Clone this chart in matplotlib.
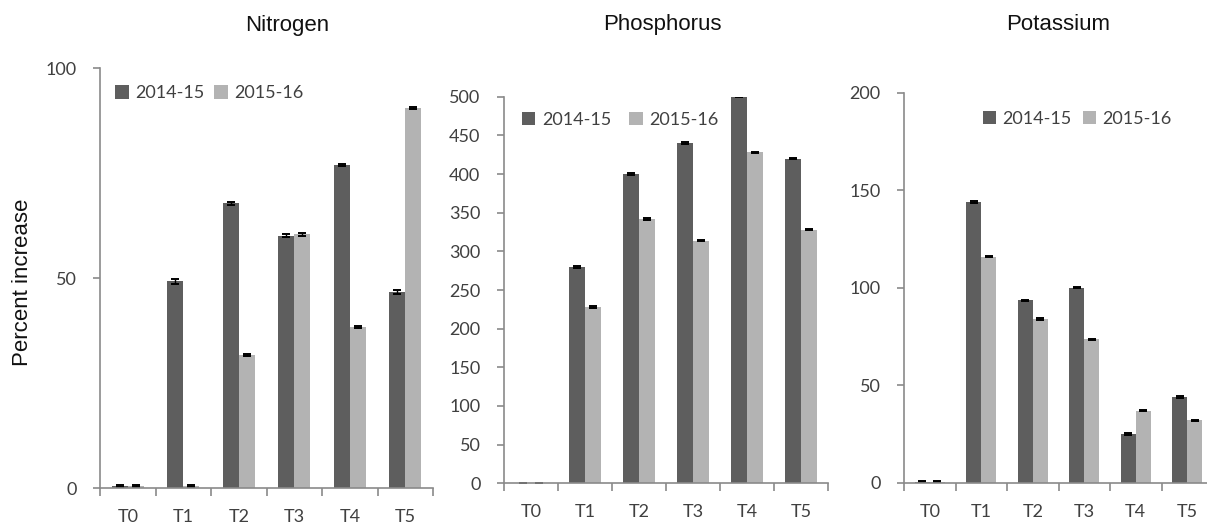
import matplotlib.pyplot as plt
import numpy as np

treatments = ["T0", "T1", "T2", "T3", "T4", "T5"]
seasons = ["2014-15", "2015-16"]

# percent increase per nutrient, one list per season
nitrogen_1415 = [0.5, 49.2, 67.8, 60.1, 76.9, 46.6]
nitrogen_1516 = [0.5, 0.5, 31.6, 60.4, 38.3, 90.5]
nitrogen_err_1415 = [0.3, 0.6, 0.3, 0.3, 0.2, 0.5]
nitrogen_err_1516 = [0.3, 0.3, 0.2, 0.3, 0.2, 0.3]

phosphorus_1415 = [0, 280, 400, 440, 500, 420]
phosphorus_1516 = [0, 228, 342, 314, 428, 328]
phosphorus_err_1415 = [0, 1, 1, 1, 0, 1]
phosphorus_err_1516 = [0, 1, 1, 1, 1, 1]

potassium_1415 = [0.5, 144, 93.5, 100, 25, 44]
potassium_1516 = [0.5, 116, 84, 73.5, 37, 32]
potassium_err_1415 = [0.3, 0.4, 0.4, 0.3, 0.3, 0.5]
potassium_err_1516 = [0.3, 0.4, 0.4, 0.4, 0.4, 0.4]

dark = "#5e5e5e"
light = "#b3b3b3"
spine = "#8a8a8a"
text_col = "#404040"
tick_font = "Lato"
title_font = "Liberation Sans"

fig = plt.figure(figsize=(12.07, 5.23), dpi=100)

panels = [
    dict(title="Nitrogen", rect=[0.0829, 0.0669, 0.2759, 0.803],
         a=nitrogen_1415, b=nitrogen_1516, ea=nitrogen_err_1415, eb=nitrogen_err_1516,
         ylim=100, yticks=[0, 50, 100], leg=(0.045, 0.94), colsp=0.55,
         title_xy=(0.238, 0.952)),
    dict(title="Phosphorus", rect=[0.4176, 0.0759, 0.2685, 0.7392],
         a=phosphorus_1415, b=phosphorus_1516, ea=phosphorus_err_1415, eb=phosphorus_err_1516,
         ylim=500, yticks=list(range(0, 501, 50)), leg=(0.055, 0.94), colsp=1.0,
         title_xy=(0.549, 0.954)),
    dict(title="Potassium", rect=[0.749, 0.077, 0.256, 0.7457],
         a=potassium_1415, b=potassium_1516, ea=potassium_err_1415, eb=potassium_err_1516,
         ylim=200, yticks=[0, 50, 100, 150, 200], leg=(0.255, 0.933), colsp=0.6,
         title_xy=(0.877, 0.954)),
]

x = np.arange(len(treatments))
w = 0.29

for p in panels:
    ax = fig.add_axes(p["rect"])
    ax.bar(x - w / 2, p["a"], w, color=dark, label=seasons[0], zorder=2)
    ax.bar(x + w / 2, p["b"], w, color=light, label=seasons[1], zorder=2)
    ax.errorbar(x - w / 2, p["a"], yerr=p["ea"], fmt="none", ecolor="black",
                elinewidth=1, capsize=3.2, capthick=1.4, zorder=3)
    ax.errorbar(x + w / 2, p["b"], yerr=p["eb"], fmt="none", ecolor="black",
                elinewidth=1, capsize=3.2, capthick=1.4, zorder=3)

    ax.set_xlim(-0.5, 5.5)
    ax.set_ylim(0, p["ylim"])
    ax.set_yticks(p["yticks"])

    # separator ticks between categories, labels at centres
    ax.set_xticks(np.arange(-0.5, 6.0, 1.0))
    ax.set_xticklabels([])
    ax.set_xticks(x, minor=True)
    ax.set_xticklabels(treatments, minor=True)
    ax.tick_params(axis="x", which="major", length=6, width=1.2, color=spine)
    ax.tick_params(axis="x", which="minor", length=0, pad=15,
                   labelsize=13, labelcolor=text_col)
    ax.tick_params(axis="y", length=5, width=1.2, color=spine, pad=12,
                   labelsize=13, labelcolor=text_col)
    for lab in ax.get_xticklabels(minor=True) + ax.get_yticklabels():
        lab.set_fontfamily(tick_font)

    for s in ["top", "right"]:
        ax.spines[s].set_visible(False)
    for s in ["left", "bottom"]:
        ax.spines[s].set_color(spine)
        ax.spines[s].set_linewidth(1.2)
    ax.spines["left"].set_zorder(4)
    ax.spines["bottom"].set_zorder(4)

    leg = ax.legend(loc="center left", bbox_to_anchor=p["leg"], ncol=2,
                    frameon=False, handlelength=0.75, handleheight=0.75,
                    handletextpad=0.35, columnspacing=p["colsp"],
                    borderpad=0, borderaxespad=0,
                    prop={"family": tick_font, "size": 13})
    for t in leg.get_texts():
        t.set_color(text_col)

    fig.text(p["title_xy"][0], p["title_xy"][1], p["title"], ha="center", va="center",
             fontsize=16, family=title_font, color="#111111")

fig.text(0.019, 0.46, "Percent increase", rotation=90, ha="center", va="center",
         fontsize=16, family=title_font, color="#111111")

fig.savefig("out.png", dpi=100)
